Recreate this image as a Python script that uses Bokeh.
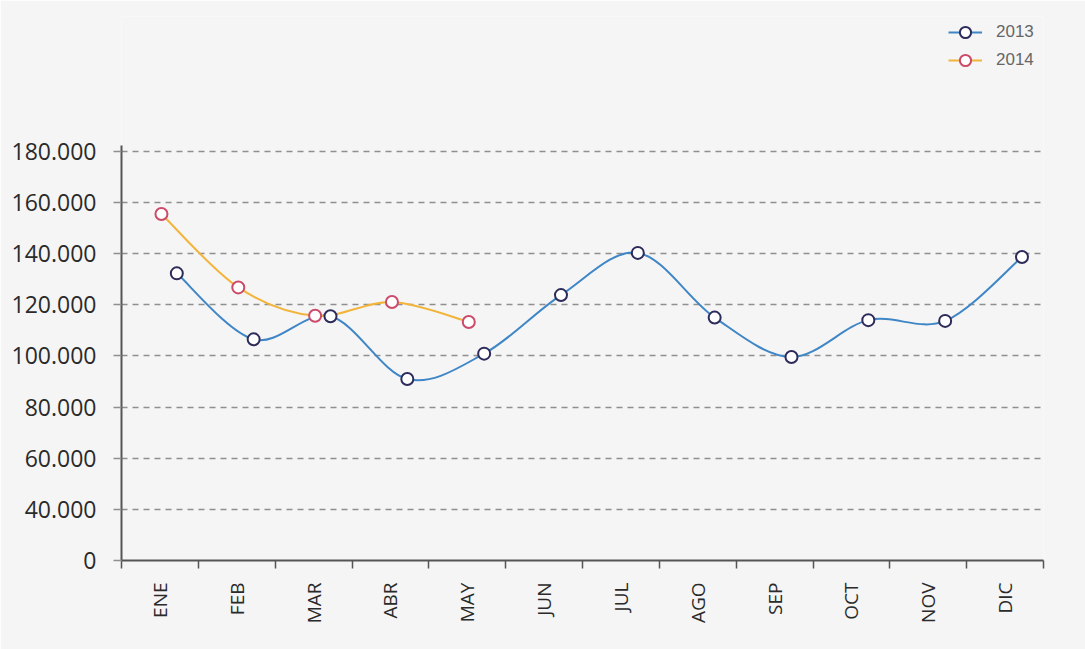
import math
from bokeh.plotting import figure
from bokeh.models import (ColumnDataSource, Range1d, FixedTicker, Legend, LegendItem)
from bokeh.embed import file_html
from bokeh.resources import INLINE

# ---- data ----
months = ["ENE", "FEB", "MAR", "ABR", "MAY", "JUN", "JUL", "AGO", "SEP", "OCT", "NOV", "DIC"]
values_2013 = [132300, 106500, 115500, 91000, 100900, 123800, 140300, 115000, 99600, 114000, 113700, 138700]
values_2014 = [155500, 126800, 115700, 121100, 113300]
ytick_values = [20000, 40000, 60000, 80000, 100000, 120000, 140000, 160000, 180000]
ytick_labels = ["0", "40.000", "60.000", "80.000", "100.000", "120.000", "140.000", "160.000", "180.000"]

# ---- styles ----
BG = "#f5f5f5"
C13_LINE, C13_MARK = "#3f86c6", "#2d2b5a"
C14_LINE, C14_MARK = "#f2b43a", "#cc4a6a"
DODGE_2013, DODGE_2014 = 0.22, 0.02
Y_AXIS_TOP = 182300


def positions(vals, dodge):
    return [i + 0.5 + dodge for i in range(len(vals))]


def bezier_source(xs, ys, k=1/6):
    n = len(xs)
    d = dict(x0=[], y0=[], x1=[], y1=[], cx0=[], cy0=[], cx1=[], cy1=[])
    for i in range(n - 1):
        p0 = (xs[max(i - 1, 0)], ys[max(i - 1, 0)])
        p1 = (xs[i], ys[i])
        p2 = (xs[i + 1], ys[i + 1])
        p3 = (xs[min(i + 2, n - 1)], ys[min(i + 2, n - 1)])
        d["x0"].append(p1[0]); d["y0"].append(p1[1])
        d["x1"].append(p2[0]); d["y1"].append(p2[1])
        d["cx0"].append(p1[0] + (p2[0] - p0[0]) * k)
        d["cy0"].append(p1[1] + (p2[1] - p0[1]) * k)
        d["cx1"].append(p2[0] - (p3[0] - p1[0]) * k)
        d["cy1"].append(p2[1] - (p3[1] - p1[1]) * k)
    return ColumnDataSource(d)


p = figure(frame_width=922, frame_height=544,
           min_border_left=121, min_border_right=42, min_border_top=16, min_border_bottom=89,
           x_range=Range1d(0, 12), y_range=Range1d(20000, 232750),
           output_backend="svg", toolbar_location=None)
p.background_fill_color = BG
p.border_fill_color = BG
p.outline_line_color = None

# axes
xa = p.xaxis[0]
xa.ticker = FixedTicker(ticks=[i + 0.5 for i in range(len(months))],
                        minor_ticks=list(range(len(months) + 1)))
xa.major_label_overrides = {i + 0.5: m for i, m in enumerate(months)}
xa.major_tick_line_color = None
xa.major_tick_out = 0
xa.major_tick_in = 0
xa.minor_tick_out = 8
xa.minor_tick_in = 0
xa.minor_tick_line_color = "#555555"
xa.minor_tick_line_width = 1.5
xa.axis_line_color = "#555555"
xa.axis_line_width = 2
xa.major_label_orientation = math.pi / 2
xa.major_label_standoff = 14
xa.major_label_text_font = "Open Sans"
xa.major_label_text_font_size = "19px"
xa.major_label_text_color = "#2a2a2a"

ya = p.yaxis[0]
ya.ticker = FixedTicker(ticks=ytick_values, minor_ticks=[])
ya.bounds = (ytick_values[0], Y_AXIS_TOP)
ya.major_label_overrides = {v: l for v, l in zip(ytick_values, ytick_labels)}
ya.major_tick_out = 8
ya.major_tick_in = 0
ya.major_tick_line_color = "#8f8f8f"
ya.major_tick_line_width = 1.5
ya.minor_tick_line_color = None
ya.axis_line_color = "#555555"
ya.axis_line_width = 2
ya.major_label_standoff = 17
ya.major_label_text_font = "Open Sans"
ya.major_label_text_font_size = "23px"
ya.major_label_text_color = "#2a2a2a"

p.xgrid.grid_line_color = None
p.ygrid.ticker = FixedTicker(ticks=ytick_values)
p.ygrid.grid_line_color = "#8f8f8f"
p.ygrid.grid_line_dash = "6 5"
p.ygrid.grid_line_width = 1.5

# series
x13 = positions(values_2013, DODGE_2013)
x14 = positions(values_2014, DODGE_2014)

b13 = p.bezier(x0="x0", y0="y0", x1="x1", y1="y1", cx0="cx0", cy0="cy0", cx1="cx1", cy1="cy1",
               source=bezier_source(x13, values_2013), line_color=C13_LINE, line_width=2)
b14 = p.bezier(x0="x0", y0="y0", x1="x1", y1="y1", cx0="cx0", cy0="cy0", cx1="cx1", cy1="cy1",
               source=bezier_source(x14, values_2014), line_color=C14_LINE, line_width=2)
s13 = p.scatter(x=x13, y=values_2013, size=12, marker="circle", fill_color="white",
                line_color=C13_MARK, line_width=2)
s14 = p.scatter(x=x14, y=values_2014, size=12, marker="circle", fill_color="white",
                line_color=C14_MARK, line_width=2)

legend = Legend(items=[LegendItem(label="2013", renderers=[b13, s13]),
                       LegendItem(label="2014", renderers=[b14, s14])],
                location=(827, 486), orientation="vertical",
                glyph_width=34, glyph_height=28, label_height=28, spacing=0,
                label_standoff=14, padding=0, margin=0,
                border_line_color=None, background_fill_alpha=0,
                label_text_font="Liberation Sans", label_text_font_size="17px",
                label_text_color="#666666")
p.add_layout(legend, "center")

open("out.html", "w").write(file_html(p, INLINE))
